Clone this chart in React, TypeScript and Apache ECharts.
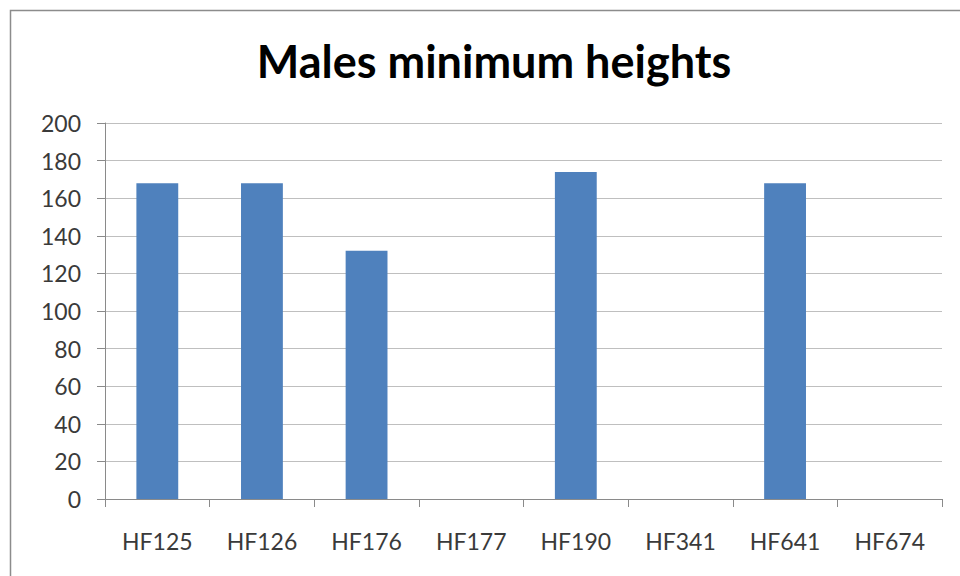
import React, { useEffect, useRef } from "react";
import * as echarts from "echarts";

const categories = ["HF125", "HF126", "HF176", "HF177", "HF190", "HF341", "HF641", "HF674"];
const minHeights: (number | null)[] = [168, 168, 132, null, 174, null, 168, null];
const titleText = "Males minimum heights";

export default function App() {
  const ref = useRef<HTMLDivElement>(null);
  useEffect(() => {
    const chart = echarts.init(ref.current!, null, { renderer: "svg" });
    chart.setOption({
      animation: false,
      backgroundColor: "#ffffff",
      title: {
        text: titleText,
        left: 489,
        top: 33,
        textAlign: "center",
        textStyle: { fontFamily: "Lato", fontWeight: "bold", fontSize: 45, color: "#000000" },
      },
      graphic: [
        {
          type: "rect",
          shape: { x: 10.5, y: 10.5, width: 1000, height: 700 },
          style: { fill: "none", stroke: "#8c8c8c", lineWidth: 1.5 },
          silent: true,
        },
      ],
      grid: { left: 105, right: 18, top: 123, bottom: 77, containLabel: false },
      xAxis: {
        type: "category",
        data: categories,
        axisLine: { lineStyle: { color: "#8a8a8a", width: 1 } },
        axisTick: { show: true, length: 8, alignWithLabel: false, lineStyle: { color: "#8a8a8a" } },
        axisLabel: { margin: 30, fontFamily: "Lato", fontSize: 23, color: "#3a3a3a", interval: 0 },
        splitLine: { show: false },
      },
      yAxis: {
        type: "value",
        min: 0,
        max: 200,
        interval: 20,
        axisLine: { show: true, lineStyle: { color: "#8a8a8a", width: 1 } },
        axisTick: { show: true, length: 8, lineStyle: { color: "#8a8a8a" } },
        axisLabel: { margin: 24, fontFamily: "Lato", fontSize: 23, color: "#3a3a3a" },
        splitLine: { show: true, lineStyle: { color: "#bfbfbf", width: 1 } },
      },
      series: [
        {
          type: "bar",
          data: minHeights,
          barWidth: "40%",
          itemStyle: { color: "#4f81bd" },
        },
      ],
    });
    return () => chart.dispose();
  }, []);
  return (
    <div
      ref={ref}
      style={{ position: "fixed", left: 0, top: 0, width: 960, height: 576 }}
    />
  );
}
